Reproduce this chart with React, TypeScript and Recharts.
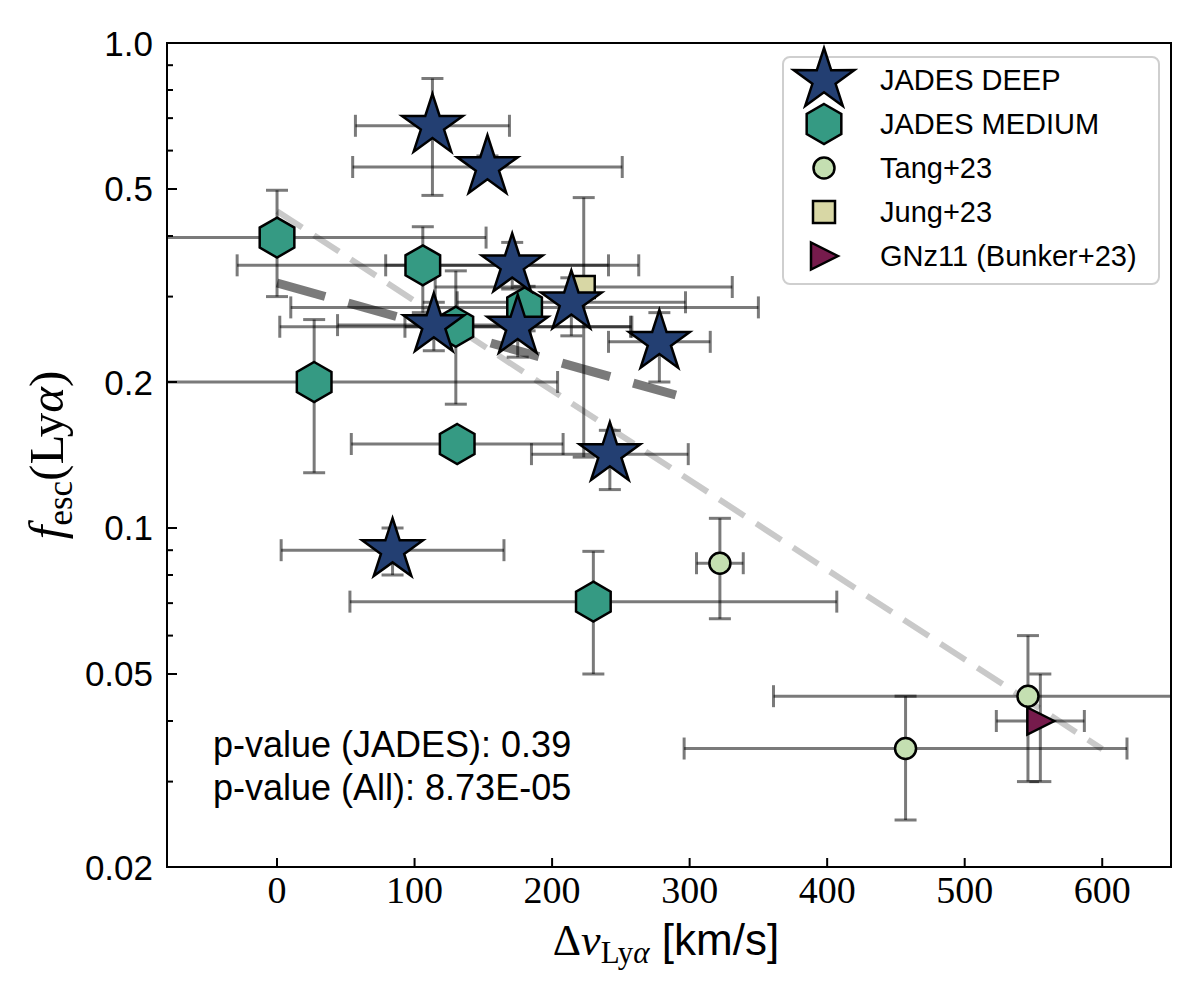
import React from "react";
import { ScatterChart, Scatter, XAxis, YAxis, ErrorBar, ReferenceArea, Label, Legend } from "recharts";

// JADES DEEP
const DEEP_V = [113, 153, 171, 114, 175, 214, 278, 242, 84];
const DEEP_F = [0.675, 0.555, 0.348, 0.262, 0.26, 0.292, 0.242, 0.142, 0.09];
const DEEP_V_ERR = [56, 98, 92, 70, 82, 83, 37, 57, 81];
const DEEP_F_LO = [0.19, 0.03, 0.037, 0.03, 0.035, 0.043, 0.042, 0.022, 0.01];
const DEEP_F_HI = [0.17, 0.03, 0.04, 0.03, 0.035, 0.036, 0.036, 0.017, 0.01];

// JADES MEDIUM
const MED_V = [0, 106, 27, 131, 230, 130, 180];
const MED_F = [0.397, 0.348, 0.2, 0.149, 0.0705, 0.26, 0.285];
const MED_V_ERR = [152, 135, 177, 77, 177, 128, 170];
const MED_F_LO = [0.097, 0.07, 0.07, 0.008, 0.0205, 0.08, 0.03];
const MED_F_HI = [0.1, 0.07, 0.069, 0.008, 0.019, 0.079, 0.03];

// Tang+23
const TANG_V = [322, 546, 457];
const TANG_F = [0.0846, 0.045, 0.0351];
const TANG_V_ERR = [17, 185, 161];
const TANG_F_LO = [0.0196, 0.015, 0.0101];
const TANG_F_HI = [0.0201, 0.015, 0.0099];

// Jung+23
const JUNG_V = [223];
const JUNG_F = [0.314];
const JUNG_V_ERR = [108];
const JUNG_F_LO = [0.174];
const JUNG_F_HI = [0.166];

// GNz11 (Bunker+23)
const GNZ_V = [555];
const GNZ_F = [0.04];
const GNZ_V_ERR = [32];
const GNZ_F_LO = [0.01];
const GNZ_F_HI = [0.01];

// fit lines
const FIT_ALL_V = [0, 600];
const FIT_ALL_F = [0.45, 0.035];
const FIT_JADES_V = [0, 290];
const FIT_JADES_F = [0.32, 0.188];

const X_TICKS = [0, 100, 200, 300, 400, 500, 600];
const Y_LABELED = [0.02, 0.05, 0.1, 0.2, 0.5, 1.0];
const Y_LABELS = ["0.02", "0.05", "0.1", "0.2", "0.5", "1.0"];
const Y_MINOR = [0.03, 0.04, 0.06, 0.07, 0.08, 0.09, 0.3, 0.4, 0.6, 0.7, 0.8, 0.9];

const P_TEXT = ["p-value (JADES): 0.39", "p-value (All): 8.73E-05"];

const C_DEEP = "#233f72";
const C_MED = "#359a83";
const C_TANG = "#c4dfb1";
const C_JUNG = "#d8d7a5";
const C_GNZ = "#761b4c";
const ERR = "rgba(0,0,0,0.52)";

// plot box in chart pixels, used to clip the error bars
const PLOT = { left: 167, top: 43, right: 1171, bottom: 867 };

const rows = (v: number[], f: number[], ve: number[], lo: number[], hi: number[]) =>
  v.map((x, i) => ({ v: x, f: f[i], vErr: ve[i], fErr: [lo[i], hi[i]] }));

const deep = rows(DEEP_V, DEEP_F, DEEP_V_ERR, DEEP_F_LO, DEEP_F_HI);
const medium = rows(MED_V, MED_F, MED_V_ERR, MED_F_LO, MED_F_HI);
const tang = rows(TANG_V, TANG_F, TANG_V_ERR, TANG_F_LO, TANG_F_HI);
const jung = rows(JUNG_V, JUNG_F, JUNG_V_ERR, JUNG_F_LO, JUNG_F_HI);
const gnz = rows(GNZ_V, GNZ_F, GNZ_V_ERR, GNZ_F_LO, GNZ_F_HI);
const fitAll = FIT_ALL_V.map((v, i) => ({ v, f: FIT_ALL_F[i] }));
const fitJades = FIT_JADES_V.map((v, i) => ({ v, f: FIT_JADES_F[i] }));

const polyPoints = (cx: number, cy: number, n: number, r: number, inner?: number) => {
  const pts: string[] = [];
  const count = inner ? n * 2 : n;
  for (let k = 0; k < count; k++) {
    const a = -Math.PI / 2 + (k * 2 * Math.PI) / count;
    const rr = inner && k % 2 === 1 ? inner : r;
    pts.push(`${cx + rr * Math.cos(a)},${cy + rr * Math.sin(a)}`);
  }
  return pts.join(" ");
};

const Star = ({ cx, cy }: any) => (
  <polygon points={polyPoints(cx, cy, 5, 32, 12.2)} fill={C_DEEP} stroke="#000" strokeWidth={2.5} />
);
const Hexagon = ({ cx, cy }: any) => (
  <polygon points={polyPoints(cx, cy, 6, 20)} fill={C_MED} stroke="#000" strokeWidth={2.5} />
);
const Dot = ({ cx, cy }: any) => <circle cx={cx} cy={cy} r={10.5} fill={C_TANG} stroke="#000" strokeWidth={2.5} />;
const Square = ({ cx, cy }: any) => (
  <rect x={cx - 11} y={cy - 11} width={22} height={22} fill={C_JUNG} stroke="#000" strokeWidth={2.5} />
);
const TriRight = ({ cx, cy }: any) => (
  <polygon
    points={`${cx + 14},${cy} ${cx - 13},${cy - 13.5} ${cx - 13},${cy + 13.5}`}
    fill={C_GNZ}
    stroke="#000"
    strokeWidth={2.5}
  />
);
const Nothing = () => <g />;

const LEGEND_ITEMS = [
  { name: "JADES DEEP", Shape: Star },
  { name: "JADES MEDIUM", Shape: Hexagon },
  { name: "Tang+23", Shape: Dot },
  { name: "Jung+23", Shape: Square },
  { name: "GNz11 (Bunker+23)", Shape: TriRight },
];

const LegendBox = () => (
  <div
    style={{
      width: 378,
      height: 229,
      boxSizing: "border-box",
      border: "2px solid #cfcfcf",
      borderRadius: 8,
      background: "rgba(255,255,255,0.85)",
      fontFamily: "Liberation Sans",
      fontSize: 29,
      color: "#000",
    }}
  >
    {LEGEND_ITEMS.map(({ name, Shape }) => (
      <div key={name} style={{ display: "flex", alignItems: "center", height: 44 }}>
        <svg width={96} height={44} style={{ overflow: "visible", flex: "none" }}>
          <Shape cx={40} cy={22} />
        </svg>
        <span>{name}</span>
      </div>
    ))}
  </div>
);

const XTick = ({ x, y, payload }: any) => (
  <g>
    <line x1={x} y1={y} x2={x} y2={y - 9} stroke="#000" strokeWidth={2} />
    <text x={x} y={y + 36} textAnchor="middle" fontFamily="Liberation Serif" fontSize={38} fill="#000">
      {payload.value}
    </text>
  </g>
);

const YTick = ({ x, y, payload }: any) => {
  const i = Y_LABELED.indexOf(payload.value);
  const major = i >= 0;
  return (
    <g>
      <line x1={x} y1={y} x2={x + (major ? 10 : 6)} y2={y} stroke="#000" strokeWidth={2} />
      {major && (
        <text x={x - 14} y={y + 12.5} textAnchor="end" fontFamily="Liberation Sans" fontSize={35} fill="#000">
          {Y_LABELS[i]}
        </text>
      )}
    </g>
  );
};

const XLabel = ({ viewBox }: any) => (
  <text x={viewBox.x + viewBox.width / 2 - 3} y={viewBox.y + 88} textAnchor="middle" fontSize={44} fill="#000">
    <tspan fontFamily="Liberation Serif">Δ</tspan>
    <tspan fontFamily="Liberation Serif" fontStyle="italic">v</tspan>
    <tspan fontFamily="Liberation Serif" fontSize={31} dy={8}>Ly</tspan>
    <tspan fontFamily="Liberation Serif" fontStyle="italic" fontSize={31}>α</tspan>
    <tspan fontFamily="Liberation Sans" dy={-8}>{" [km/s]"}</tspan>
  </text>
);

const YLabel = ({ viewBox }: any) => (
  <text
    transform={`translate(63, ${viewBox.y + viewBox.height / 2}) rotate(-90)`}
    textAnchor="middle"
    fontFamily="Liberation Serif"
    fontSize={49}
    fill="#000"
  >
    <tspan fontStyle="italic">f</tspan>
    <tspan fontSize={35} dy={9}>esc</tspan>
    <tspan dy={-9}>(Ly</tspan>
    <tspan fontStyle="italic">α</tspan>
    <tspan>)</tspan>
  </text>
);

const errorScatter = (data: any[], key: string) => (
  <Scatter key={key} data={data} shape={Nothing} legendType="none" isAnimationActive={false}>
    <ErrorBar
      dataKey="vErr"
      direction="x"
      width={11}
      stroke={ERR}
      strokeWidth={3}
      clipPath="url(#plot-clip)"
      isAnimationActive={false}
    />
    <ErrorBar
      dataKey="fErr"
      direction="y"
      width={11}
      stroke={ERR}
      strokeWidth={3}
      clipPath="url(#plot-clip)"
      isAnimationActive={false}
    />
  </Scatter>
);

export default function App() {
  return (
    <div style={{ position: "absolute", left: 0, top: 0, width: 1200, height: 1000, background: "#fff" }}>
      <style>{`.recharts-errorBar { clip-path: url(#plot-clip); }`}</style>
      <svg width={0} height={0} style={{ position: "absolute" }}>
        <defs>
          <clipPath id="plot-clip" clipPathUnits="userSpaceOnUse">
            <rect
              x={PLOT.left}
              y={PLOT.top}
              width={PLOT.right - PLOT.left}
              height={PLOT.bottom - PLOT.top}
            />
          </clipPath>
        </defs>
      </svg>
      <ScatterChart width={1200} height={1000} margin={{ top: 43, right: 29, bottom: 0, left: 0 }}>
        <XAxis
          type="number"
          dataKey="v"
          domain={[-80, 650]}
          allowDataOverflow
          ticks={X_TICKS}
          interval={0}
          tick={<XTick />}
          tickLine={false}
          tickSize={0}
          tickMargin={0}
          height={133}
          axisLine={{ stroke: "#000", strokeWidth: 2 }}
        >
          <Label content={<XLabel />} />
        </XAxis>
        <YAxis
          type="number"
          dataKey="f"
          scale="log"
          domain={[0.02, 1]}
          allowDataOverflow
          ticks={[...Y_LABELED, ...Y_MINOR]}
          interval={0}
          tick={<YTick />}
          tickLine={false}
          tickSize={0}
          tickMargin={0}
          width={167}
          axisLine={{ stroke: "#000", strokeWidth: 2 }}
        >
          <Label content={<YLabel />} />
        </YAxis>
        <ReferenceArea x1={-80} x2={650} y1={0.02} y2={1} fill="none" stroke="#000" strokeWidth={2} />

        {errorScatter(medium, "e-med")}
        {errorScatter(tang, "e-tang")}
        {errorScatter(jung, "e-jung")}
        {errorScatter(gnz, "e-gnz")}
        {errorScatter(deep, "e-deep")}

        <Scatter
          data={fitAll}
          shape={Nothing}
          legendType="none"
          line={{ stroke: "rgba(0,0,0,0.21)", strokeWidth: 6, strokeDasharray: "30 14" }}
          isAnimationActive={false}
        />
        <Scatter
          data={fitJades}
          shape={Nothing}
          legendType="none"
          line={{ stroke: "rgba(0,0,0,0.52)", strokeWidth: 9, strokeDasharray: "50 24" }}
          isAnimationActive={false}
        />

        <Scatter data={medium} shape={(p: any) => <Hexagon cx={p.cx} cy={p.cy} />} legendType="none" isAnimationActive={false} />
        <Scatter data={tang} shape={(p: any) => <Dot cx={p.cx} cy={p.cy} />} legendType="none" isAnimationActive={false} />
        <Scatter data={jung} shape={(p: any) => <Square cx={p.cx} cy={p.cy} />} legendType="none" isAnimationActive={false} />
        <Scatter data={gnz} shape={(p: any) => <TriRight cx={p.cx} cy={p.cy} />} legendType="none" isAnimationActive={false} />
        <Scatter data={deep} shape={(p: any) => <Star cx={p.cx} cy={p.cy} />} legendType="none" isAnimationActive={false} />

        <Legend
          layout="vertical"
          align="center"
          verticalAlign="middle"
          content={<LegendBox />}
          wrapperStyle={{ left: 782, top: 56, width: 378, height: 229 }}
        />
      </ScatterChart>
      <div
        style={{
          position: "absolute",
          left: 213,
          top: 723,
          fontFamily: "Liberation Sans",
          fontSize: 36,
          lineHeight: "43px",
          color: "#000",
          whiteSpace: "nowrap",
        }}
      >
        {P_TEXT.map((t) => (
          <div key={t}>{t}</div>
        ))}
      </div>
    </div>
  );
}
